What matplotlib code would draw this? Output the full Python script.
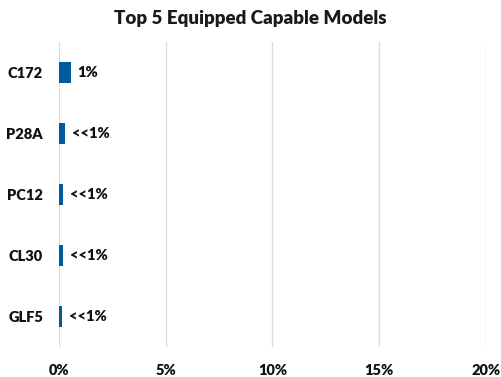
import matplotlib.pyplot as plt
from matplotlib.ticker import FuncFormatter

models = ['C172', 'P28A', 'PC12', 'CL30', 'GLF5']
shares = [0.55, 0.30, 0.20, 0.20, 0.15]
labels = ['1%', '<<1%', '<<1%', '<<1%', '<<1%']

plt.rcParams['font.family'] = ['Lato', 'DejaVu Sans']

fig = plt.figure(figsize=(5.01, 3.77), dpi=100)
ax = fig.add_axes([0.1178, 0.0796, 0.852, 0.809])

y = list(range(len(models)))
ax.barh(y, shares, height=0.36, color='#005A9C', zorder=3)
for yi, v, lab in zip(y, shares, labels):
    ax.text(v + 0.3, yi, lab, va='center', ha='left', fontsize=10.5,
            fontweight='heavy', color='#111111')

ax.set_xlim(0, 20)
ax.set_ylim(4.5, -0.5)
ax.set_yticks(y)
ax.set_yticklabels(models, fontsize=10.5, fontweight='heavy', color='#111111')
ax.set_xticks([0, 5, 10, 15, 20])
ax.xaxis.set_major_formatter(FuncFormatter(lambda v, p: f'{v:.0f}%'))
for t in ax.get_xticklabels():
    t.set_fontweight('heavy')
    t.set_fontsize(10.5)
    t.set_color('#111111')
ax.tick_params(length=0, pad=12)
ax.tick_params(axis='y', pad=11.5)
ax.grid(axis='x', color='#dcdcdc', lw=1, zorder=0)
for s in ax.spines.values():
    s.set_visible(False)

fig.text(0.5, 0.952, 'Top 5 Equipped Capable Models', ha='center', va='center',
         fontsize=13.5, fontweight='heavy', color='#1a1a1a')

fig.savefig('out.png', dpi=100)
